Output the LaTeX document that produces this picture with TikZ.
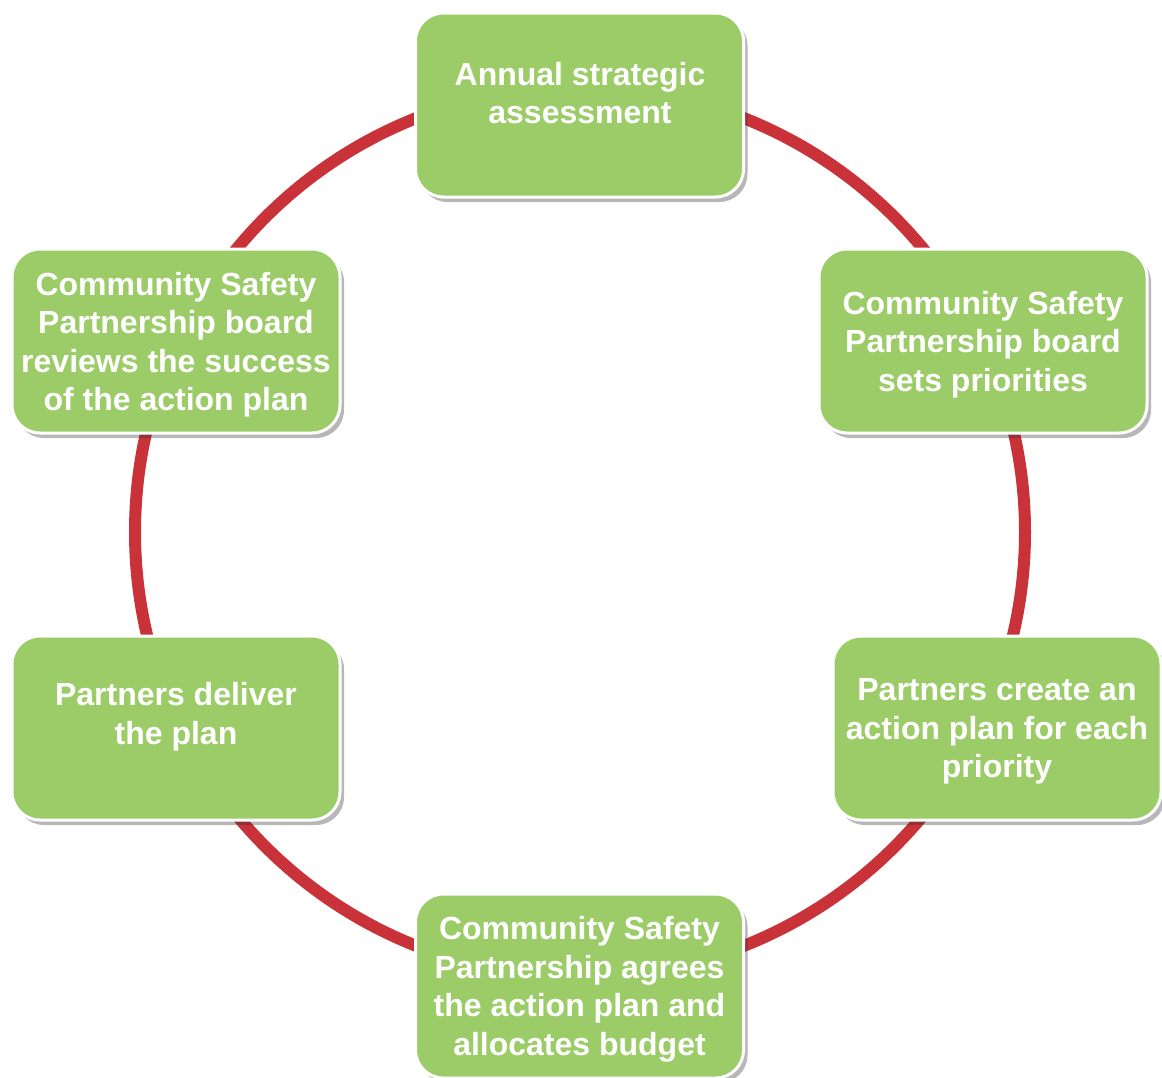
\documentclass[tikz,border=0pt]{standalone}
\usepackage{fontspec}
\setmainfont{Liberation Sans}
\usetikzlibrary{shadows}
\definecolor{boxgreen}{RGB}{155,204,104}
\definecolor{ringred}{RGB}{200,50,56}
\tikzset{
  stagebox/.style={draw=white, line width=3pt, fill=boxgreen, rounded corners=28pt,
    minimum width=328pt, minimum height=184pt, inner sep=0pt,
    drop shadow={opacity=0.35, shadow xshift=4pt, shadow yshift=-5pt, fill=black!80}},
  stagetext/.style={text=white, align=center, font=\bfseries\fontsize{32}{38.5}\selectfont, inner sep=0pt},
  ring/.style={draw=ringred, line width=12pt}
}
\begin{document}
\begin{tikzpicture}[x=1pt,y=-1pt]
\useasboundingbox (0,0) rectangle (1162,1077);
\fill[white] (0,0) rectangle (1162,1077);
\coordinate (ctr) at (580,532);
\draw[ring] (ctr) circle (445pt);
\node[stagebox] (top) at (579.5,105) {};
\node[stagebox] (rt) at (983,341) {};
\node[stagebox] (rb) at (997,728) {};
\node[stagebox] (bot) at (579.5,986) {};
\node[stagebox] (lb) at (176,728) {};
\node[stagebox] (lt) at (176,341) {};
\node[stagetext] (ttop) at (580,93) {Annual strategic\\assessment};
\node[stagetext] (trt) at (983,344.5) {Community Safety\\Partnership board\\sets priorities};
\node[stagetext] (trb) at (997,731.5) {Partners create an\\action plan for each\\priority};
\node[stagetext] (tbot) at (579.5,989.5) {Community Safety\\Partnership agrees\\the action plan and\\allocates budget};
\node[stagetext] (tlb) at (176,716.5) {Partners deliver\\the plan};
\node[stagetext] (tlt) at (176,344.5) {Community Safety\\Partnership board\\reviews the success\\of the action plan};
\end{tikzpicture}
\end{document}
